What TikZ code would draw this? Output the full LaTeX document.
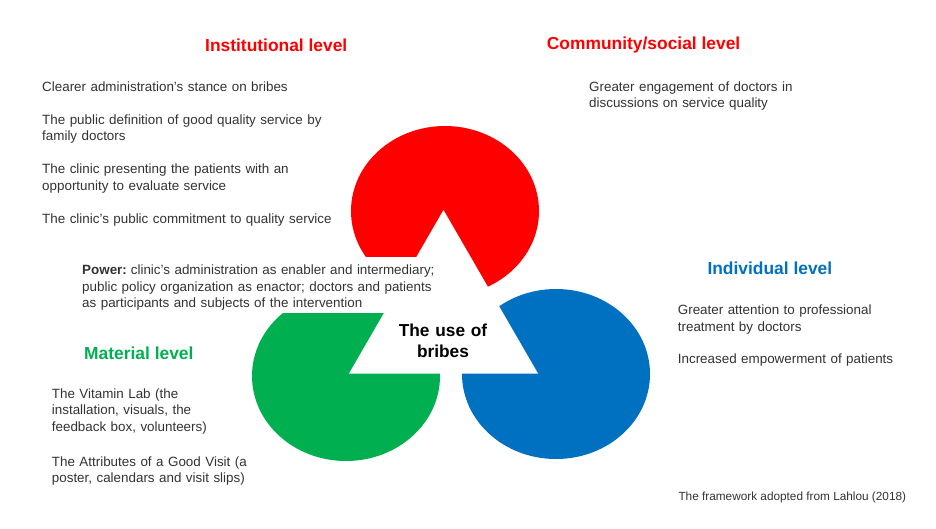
\documentclass[tikz,border=0pt]{standalone}
\usepackage{fontspec}
\setmainfont{Liberation Sans}
\usetikzlibrary{shapes.geometric}
\definecolor{cred}{HTML}{FF0000}
\definecolor{cgreen}{HTML}{00B050}
\definecolor{cblue}{HTML}{0070C0}
\definecolor{txt}{HTML}{333333}
\begin{document}
\begin{tikzpicture}[x=1pt,y=-1pt,
  blob/.style={ellipse, inner sep=0pt, minimum width=188pt, minimum height=170pt, draw=none},
  title/.style={font=\fontsize{17.4}{21}\selectfont\bfseries, inner sep=0pt, anchor=base west},
  body/.style={font=\fontsize{13.4}{16.5}\selectfont, text=txt, inner sep=0pt, anchor=base west, align=left, text width=#1},
  body/.default=330pt]
\useasboundingbox (0,0) rectangle (936,528);
\fill[white] (0,0) rectangle (936,528);

% the three level shapes
\node[blob, fill=cred]   (redc)   at (445,211) {};
\node[blob, fill=cgreen] (greenc) at (346,376) {};
\node[blob, fill=cblue]  (bluec)  at (556,374) {};

% central triangle
\coordinate (tA) at (443.5,210);
\coordinate (tB) at (349,373.5);
\coordinate (tC) at (538,373.5);
\fill[white] (tA) -- (tB) -- (tC) -- cycle;

% white box behind the power text
\coordinate (pb1) at (75,257);
\coordinate (pb2) at (440,313);
\fill[white] (pb1) rectangle (pb2);

% centre
\node[font=\fontsize{17.3}{21}\selectfont\bfseries, inner sep=0pt, anchor=base, align=center, text width=140pt] (center) at (443,336) {The use of\\bribes};

% titles
\node[title, text=cred]   (inst) at (205,51.6)  {Institutional level};
\node[title, text=cred]   (comm) at (546.7,49.3) {Community/social level};
\node[title, text=cblue]  (indi) at (707.3,274.3) {Individual level};
\node[title, text=cgreen] (mate) at (84,359.3)  {Material level};

% institutional items
\node[body] (insttxt) at (42,91) {Clearer administration’s stance on bribes\\[16.5pt]
The public definition of good quality service by\\ family doctors\\[16.5pt]
The clinic presenting the patients with an\\ opportunity to evaluate service\\[16.5pt]
The clinic’s public commitment to quality service};

% community items
\node[body] (commtxt) at (589,91.4) {Greater engagement of doctors in\\ discussions on service quality};

% power
\node[body=360pt] (power) at (82,274.7) {\textbf{Power:}\kern0.3em clinic’s administration as enabler and intermediary;\\ public policy organization as enactor; doctors and patients\\ as participants and subjects of the intervention};

% individual items
\node[body] (inditxt) at (677.7,314.7) {Greater attention to professional\\ treatment by doctors\\[15.8pt]
Increased empowerment of patients};

% material items
\node[body, font=\fontsize{13.4}{16.7}\selectfont] (matetxt) at (51.7,398) {The Vitamin Lab (the\\ installation, visuals, the\\ feedback box, volunteers)\\[18pt]
The Attributes of a Good Visit (a\\ poster, calendars and visit slips)};

% source
\node[font=\fontsize{11.8}{14}\selectfont, text=txt, inner sep=0pt, anchor=base west] (src) at (678.3,500.5) {The framework adopted from Lahlou (2018)};
\end{tikzpicture}
\end{document}
